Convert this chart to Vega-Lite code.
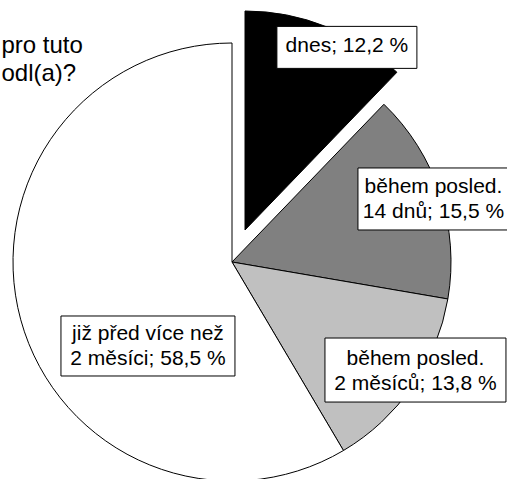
{
  "$schema": "https://vega.github.io/schema/vega-lite/v6.json",
  "width": 507,
  "height": 479,
  "padding": 0,
  "autosize": {"type": "none"},
  "background": "white",
  "config": {"view": {"stroke": null}},
  "title": {
    "text": ["pro tuto", "odl(a)?"],
    "orient": "top",
    "anchor": "start",
    "frame": "group",
    "align": "left",
    "baseline": "alphabetic",
    "offset": 0,
    "dx": 1.5,
    "dy": 105,
    "font": "Liberation Sans",
    "fontSize": 24,
    "fontWeight": "normal",
    "color": "black",
    "lineHeight": 28
  },
  "data": {
    "values": [
      {"cat": "dnes", "value": 12.2, "label": "dnes; 12,2 %"},
      {"cat": "14 dnů", "value": 15.5, "label": "během posled.\n14 dnů; 15,5 %"},
      {"cat": "2 měsíců", "value": 13.8, "label": "během posled.\n2 měsíců; 13,8 %"},
      {"cat": "před více než 2 měsíci", "value": 58.5, "label": "již před více než\n2 měsíci; 58,5 %"}
    ]
  },
  "transform": [
    {"stack": "value", "groupby": [], "as": ["v0", "v1"]},
    {"calculate": "sin(PI * (datum.v0 + datum.v1) / 100)", "as": "mx"},
    {"calculate": "cos(PI * (datum.v0 + datum.v1) / 100)", "as": "my"}
  ],
  "layer": [
    {
      "transform": [{"filter": "datum.cat !== 'dnes'"}],
      "mark": {"type": "arc", "radius": 219, "stroke": "black", "strokeWidth": 1},
      "encoding": {
        "x": {"datum": 0, "type": "quantitative", "scale": {"domain": [-1.059361, 1.255708], "nice": false, "zero": false}, "axis": null},
        "y": {"datum": 0, "type": "quantitative", "scale": {"domain": [-0.990868, 1.196347], "nice": false, "zero": false}, "axis": null},
        "theta": {"field": "v0", "type": "quantitative", "stack": null, "scale": {"domain": [0, 100]}},
        "theta2": {"field": "v1"},
        "color": {"field": "cat", "type": "nominal", "legend": null,
          "scale": {"domain": ["dnes", "14 dnů", "2 měsíců", "před více než 2 měsíci"], "range": ["#000000", "#808080", "#c0c0c0", "#ffffff"]}}
      }
    },
    {
      "transform": [{"filter": "datum.cat === 'dnes'"}],
      "mark": {"type": "arc", "radius": 219, "stroke": "black", "strokeWidth": 1, "xOffset": 13, "yOffset": -32},
      "encoding": {
        "x": {"datum": 0, "type": "quantitative", "scale": {"domain": [-1.059361, 1.255708], "nice": false, "zero": false}, "axis": null},
        "y": {"datum": 0, "type": "quantitative", "scale": {"domain": [-0.990868, 1.196347], "nice": false, "zero": false}, "axis": null},
        "theta": {"field": "v0", "type": "quantitative", "stack": null, "scale": {"domain": [0, 100]}},
        "theta2": {"field": "v1"},
        "color": {"field": "cat", "type": "nominal", "legend": null,
          "scale": {"domain": ["dnes", "14 dnů", "2 měsíců", "před více než 2 měsíci"], "range": ["#000000", "#808080", "#c0c0c0", "#ffffff"]}}
      }
    },
    {
      "transform": [{"filter": "datum.cat === 'dnes'"}],
      "encoding": {
        "x": {"field": "mx", "type": "quantitative", "scale": {"domain": [-1.059361, 1.255708], "nice": false, "zero": false}, "axis": null},
        "y": {"field": "my", "type": "quantitative", "scale": {"domain": [-0.990868, 1.196347], "nice": false, "zero": false}, "axis": null}
      },
      "layer": [
        {"mark": {"type": "point", "shape": "M-1,-0.3H1V0.3H-1Z", "size": 19600, "filled": true, "fill": "white", "stroke": "black", "strokeWidth": 1, "opacity": 1, "xOffset": 33, "yOffset": -11.5}},
        {"mark": {"type": "text", "font": "Liberation Sans", "fontSize": 21, "align": "center", "baseline": "middle", "lineBreak": "\n", "lineHeight": 25, "color": "black", "xOffset": 33, "yOffset": -12.5}, "encoding": {"text": {"field": "label"}}}
      ]
    },
    {
      "transform": [{"filter": "datum.cat === '14 dnů'"}],
      "encoding": {
        "x": {"field": "mx", "type": "quantitative", "scale": {"domain": [-1.059361, 1.255708], "nice": false, "zero": false}, "axis": null},
        "y": {"field": "my", "type": "quantitative", "scale": {"domain": [-0.990868, 1.196347], "nice": false, "zero": false}, "axis": null}
      },
      "layer": [
        {"mark": {"type": "point", "shape": "M-1,-0.4106H1V0.4106H-1Z", "size": 22801, "filled": true, "fill": "white", "stroke": "black", "strokeWidth": 1, "opacity": 1, "xOffset": -6.6, "yOffset": 5.3}},
        {"mark": {"type": "text", "font": "Liberation Sans", "fontSize": 21, "align": "center", "baseline": "middle", "lineBreak": "\n", "lineHeight": 25, "color": "black", "xOffset": -6.6, "yOffset": -6.2}, "encoding": {"text": {"field": "label"}}}
      ]
    },
    {
      "transform": [{"filter": "datum.cat === '2 měsíců'"}],
      "encoding": {
        "x": {"field": "mx", "type": "quantitative", "scale": {"domain": [-1.059361, 1.255708], "nice": false, "zero": false}, "axis": null},
        "y": {"field": "my", "type": "quantitative", "scale": {"domain": [-0.990868, 1.196347], "nice": false, "zero": false}, "axis": null}
      },
      "layer": [
        {"mark": {"type": "point", "shape": "M-1,-0.3536H1V0.3536H-1Z", "size": 32761, "filled": true, "fill": "white", "stroke": "black", "strokeWidth": 1, "opacity": 1, "xOffset": 3.1, "yOffset": -16.2}},
        {"mark": {"type": "text", "font": "Liberation Sans", "fontSize": 21, "align": "center", "baseline": "middle", "lineBreak": "\n", "lineHeight": 25, "color": "black", "xOffset": 3.1, "yOffset": -27.7}, "encoding": {"text": {"field": "label"}}}
      ]
    },
    {
      "transform": [{"filter": "datum.cat === 'před více než 2 měsíci'"}],
      "encoding": {
        "x": {"field": "mx", "type": "quantitative", "scale": {"domain": [-1.059361, 1.255708], "nice": false, "zero": false}, "axis": null},
        "y": {"field": "my", "type": "quantitative", "scale": {"domain": [-0.990868, 1.196347], "nice": false, "zero": false}, "axis": null}
      },
      "layer": [
        {"mark": {"type": "point", "shape": "M-1,-0.3448H1V0.3448H-1Z", "size": 30276, "filled": true, "fill": "white", "stroke": "black", "strokeWidth": 1, "opacity": 1, "xOffset": 127.2, "yOffset": 26.2}},
        {"mark": {"type": "text", "font": "Liberation Sans", "fontSize": 21, "align": "center", "baseline": "middle", "lineBreak": "\n", "lineHeight": 25, "color": "black", "xOffset": 127.2, "yOffset": 14.7}, "encoding": {"text": {"field": "label"}}}
      ]
    }
  ]
}
